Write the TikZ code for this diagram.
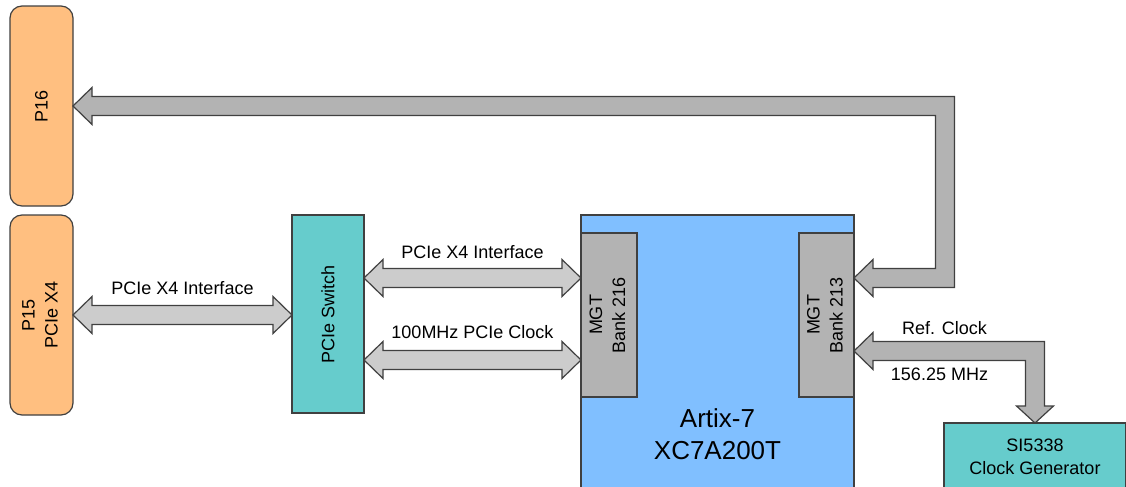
\documentclass[tikz,border=0pt]{standalone}
\usepackage{fontspec}
\setmainfont{Liberation Sans}
\usetikzlibrary{calc, positioning}
\definecolor{edgegray}{RGB}{64,64,64}
\definecolor{portorange}{RGB}{255,191,128}
\definecolor{chipteal}{RGB}{102,204,204}
\definecolor{fpgablue}{RGB}{128,191,255}
\definecolor{mgtgray}{RGB}{179,179,179}
\definecolor{arrowlight}{RGB}{204,204,204}
\definecolor{arrowdark}{RGB}{179,179,179}

\begin{document}
\begin{tikzpicture}[
	x=0.5pt, y=-0.5pt,
	line width=0.6pt,
	font=\fontsize{9}{11.5}\selectfont,
	every node/.style={inner sep=0pt, outer sep=0pt},
	block/.style={draw=edgegray, rectangle},
	port/.style={block, fill=portorange, rounded corners=6pt},
	chip/.style={block, fill=chipteal},
	fpgabox/.style={block, fill=fpgablue},
	mgt/.style={block, fill=mgtgray},
	fatlight/.style={draw=edgegray, fill=arrowlight, line join=miter},
	fatdark/.style={draw=edgegray, fill=arrowdark, line join=miter}
]
\useasboundingbox (0,0) rectangle (1126,487);

\node[port] (p16) [minimum width=31.5pt, minimum height=100pt] at (41.5,106) {\rotatebox{90}{P16}};
\node[port] (p15) [minimum width=31.5pt, minimum height=100pt] at (41.5,315) {\rotatebox{90}{\begin{tabular}{@{}c@{}}P15\\PCIe X4\end{tabular}}};
\node[chip] (sw) [minimum width=36pt, minimum height=99pt] at (328,314) {\rotatebox{90}{PCIe Switch}};
\node[fpgabox] (fpga) [minimum width=136.5pt, minimum height=137.5pt] at (717.5,352.5) {};
\node (fpganame) [font=\fontsize{13}{16}\selectfont, align=center] at (717.5,434) {Artix-7\\XC7A200T};
\node[mgt] (b216) [minimum width=28pt, minimum height=82pt] at (609,315) {\rotatebox{90}{\begin{tabular}{@{}c@{}}MGT\\Bank 216\end{tabular}}};
\node[mgt] (b213) [minimum width=27.5pt, minimum height=82pt] at (826.5,315) {\rotatebox{90}{\begin{tabular}{@{}c@{}}MGT\\Bank 213\end{tabular}}};
\node[chip] (clk) [minimum width=91pt, minimum height=33.5pt, align=center] at (1035,456.5) {SI5338\\Clock Generator};

%ends and bends of the fat arrows
\coordinate (in216a) at ($(b216.west)+(0,-37)$);
\coordinate (in216b) at ($(b216.west)+(0,45)$);
\coordinate (in213a) at ($(b213.east)+(0,-37)$);
\coordinate (in213b) at ($(b213.east)+(0,36)$);
\coordinate (turn1) at (945,106);
\coordinate (turn2) at (turn1 |- in213a);
\coordinate (turn3) at (clk.north |- in213b);

% P15 <-> switch
\draw[fatlight] (p15.east) -- ++(19,-18.5) -- ++(0,9) -- ($(sw.west |- p15.east)+(-19,-9.5)$) -- ++(0,-9) -- (sw.west |- p15.east) -- ++(-19,18.5) -- ++(0,-9) -- ($(p15.east)+(19,9.5)$) -- ++(0,9) -- cycle;
% switch <-> bank 216
\draw[fatlight] (sw.east |- in216a) -- ++(19,-18.5) -- ++(0,9) -- ($(in216a)+(-19,-9.5)$) -- ++(0,-9) -- (in216a) -- ++(-19,18.5) -- ++(0,-9) -- ($(sw.east |- in216a)+(19,9.5)$) -- ++(0,9) -- cycle;
\draw[fatlight] (sw.east |- in216b) -- ++(19,-18.5) -- ++(0,9) -- ($(in216b)+(-19,-9.5)$) -- ++(0,-9) -- (in216b) -- ++(-19,18.5) -- ++(0,-9) -- ($(sw.east |- in216b)+(19,9.5)$) -- ++(0,9) -- cycle;
% P16 <-> bank 213
\draw[fatdark] (p16.east) -- ++(19,-18.5) -- ++(0,9) -- ($(turn1)+(9.5,-9.5)$) -- ($(turn2)+(9.5,9.5)$) -- ($(in213a)+(19,9.5)$) -- ++(0,9) -- (in213a) -- ++(19,-18.5) -- ++(0,9) -- ($(turn2)+(-9.5,-9.5)$) -- ($(turn1)+(-9.5,9.5)$) -- ($(p16.east)+(19,9.5)$) -- ++(0,9) -- cycle;
% clock generator <-> bank 213
\draw[fatdark] (in213b) -- ++(19,-18.5) -- ++(0,9) -- ($(turn3)+(9.5,-9.5)$) -- ($(clk.north)+(9.5,-17)$) -- ++(9,0) -- (clk.north) -- ++(-18.5,-17) -- ++(9,0) -- ($(turn3)+(-9.5,9.5)$) -- ($(in213b)+(19,9.5)$) -- ++(0,9) -- cycle;

\node (lblp15) at ($(p15.east)!0.5!(sw.west |- p15.east)+(0,-27)$) {PCIe X4 Interface};
\node (lbl216a) at ($(sw.east |- in216a)!0.5!(in216a)+(0,-26)$) {PCIe X4 Interface};
\node (lbl216b) at ($(sw.east |- in216b)!0.5!(in216b)+(0,-28)$) {100MHz PCIe Clock};
\node (lblref) at ($(in213b)!0.5!(turn3)+(0,-23)$) {Ref. Clock};
\node (lblfreq) at ($(in213b)!0.5!(turn3)+(-5,23)$) {156.25 MHz};
\end{tikzpicture}
\end{document}
